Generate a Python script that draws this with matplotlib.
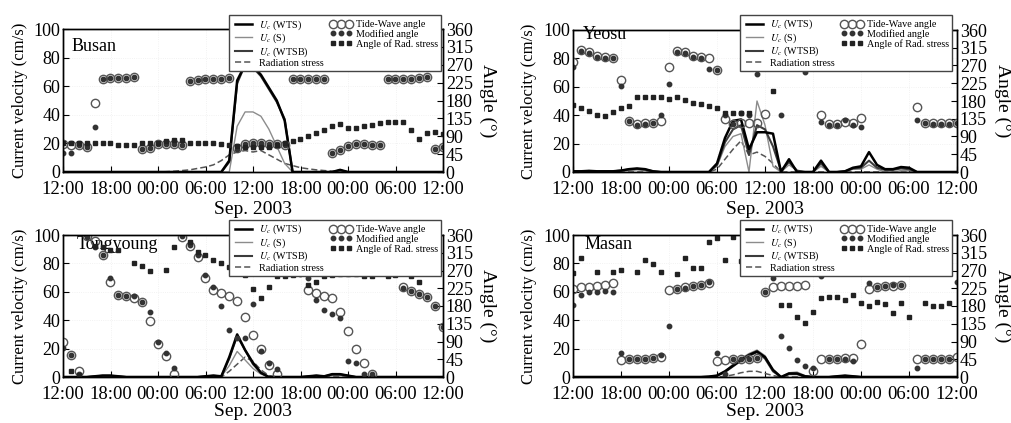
import numpy as np
import matplotlib
matplotlib.use('Agg')
import matplotlib.pyplot as plt
from matplotlib.lines import Line2D

plt.rcParams['font.family'] = ['Liberation Serif', 'DejaVu Serif']
plt.rcParams['mathtext.fontset'] = 'stix'

N = np.nan
hours = np.arange(49)
time_ticks = [0, 6, 12, 18, 24, 30, 36, 42, 48]
time_labels = ['12:00', '18:00', '00:00', '06:00', '12:00', '18:00', '00:00', '06:00', '12:00']
vel_ticks = [0, 20, 40, 60, 80, 100]
ang_ticks = [0, 45, 90, 135, 180, 225, 270, 315, 360]

# ---------------- Busan ----------------
busan_wts = [0,0,0,0,0,0,0,0,0,0, 0,0,0,0,0,0,0,0,0,0, 0,8,64,75,74,68,59,50,36,0,
             0,0,0,0,0,1.5,0,0,0,0, 0,0,0,0,0,0,0,0,0]
busan_s = [0,0,0,0,0,0,0,0,0,0, 0,0,0,0,0,0,0,0,0,0, 0,0,32,42,42,39,30,18,6,0,
           0,0,0,0,0,0.8,0,0,0,0, 0,0,0,0,0,0,0,0,0]
busan_wtsb = [0,0,0,0,0,0,0,0,0,0, 0,0,0,0,0,0,0,0,0,0, 0,7,62,75,73,67,58,49,37,0,
              0,0,0,0,0,1.2,0,0,0,0, 0,0,0,0,0,0,0,0,0]
busan_radv = [0,0,0,0,0,0,0,0,0,0, 0,0,0,0.2,0.5,1,1.5,2.5,3.5,5, 8,12,14,15,14,15,12,9,6,4.5,
              3,2.2,1.5,1,0.6,0.3,0,0,0,0, 0,0,0,0,0,0,0,0,0]
busan_tw = [71,69,67,64,173,235,236,236,237,238, 59,60,71,71,71,67,230,232,234,234,
            235,236,60,70,72,72,71,70,69,234, 234,235,235,235,48,55,65,70,70,69,
            68,234,234,235,235,236,238,58,63]
busan_mod = [48,47,67,64,113,235,236,236,237,238, 59,60,71,71,71,67,230,232,234,234,
             235,236,58,70,72,72,71,70,69,234, 234,235,235,235,47,55,65,70,70,69,
             68,234,234,235,235,236,238,58,63]
busan_rad = [72,72,72,73,74,74,72,68,67,67, 72,74,74,77,81,80,74,74,73,72,
             70,68,66,64,62,62,64,68,72,79, 82,91,98,106,115,121,111,112,116,119,
             123,125,125,125,106,82,98,100,95]

# ---------------- Yeosu ----------------
yeosu_wts = [0.5,0.5,0.8,0.5,0.5,0.5,1,2,2.5,2, 0.5,0,0,0,0,0,0,0,6,24,
             36,37,16,28,28,27,0,9,0,0, 0,8,0,0,0.5,3,4,14,5,2,
             2,3.5,3,0,0,0,0,0,0]
yeosu_s = [0.3,0.3,0.5,0.3,0.3,0.3,0.5,1,1.5,1, 0.3,0,0,0,0,0,0,0,4,18,
           25,27,0,50,33,4,0,5,1,0, 0,4,0,0,0,2,2,5,2,0,
           0,1,1,0,0,0,0,0,0]
yeosu_wtsb = [0.5,0.5,0.7,0.5,0.5,0.5,1,1.8,2.2,1.8, 0.5,0,0,0,0,0,0,0,5,21,
              30,33,12,33,30,18,1,7,1,0, 0,6,0,0,0.5,2.5,3,8,3,1.5,
              1.5,2.5,2,0,0,0,0,0,0]
yeosu_radv = [0,0,0,0,0,0,0,0,0,0, 0,0,0,0,0,0,0,0,2,9,
              16,22,12,14,11,6,0,0,0,0, 0,0,0,0,0,0,0,0,0,0,
              0,0,0,0,0,0,0,0,0]
yeosu_tw = [279,310,304,293,291,290,232,130,122,123, 125,130,266,308,304,293,291,289,259,134,
            121,125,125,125,148,N,N,N,N,N, 283,144,122,122,127,125,138,N,N,N,
            N,N,283,164,123,123,123,123,125]
yeosu_mod = [266,308,302,292,290,288,217,130,120,121, 123,144,224,305,302,292,290,262,259,144,
             121,150,144,249,266,N,144,274,N,253, N,128,119,119,132,119,115,N,N,N,
             N,N,N,133,123,121,121,121,125]
yeosu_rad = [170,161,155,144,142,153,161,167,189,190, 189,189,186,189,182,174,172,167,161,149,
             149,149,149,N,N,205,N,N,N,N, N,N,N,N,N,N,N,N,N,N,
             N,N,N,N,N,N,N,N,N]

# ---------------- Tongyoung ----------------
tong_wts = [0,0,0,0,0.5,1,1,0.5,0,0, 0,0,0,0,0,0,0,0,0.5,1,
            0.5,14,30,19,10,3,0,0,0,0, 0,0.5,1,0.5,2,2,1,0,0,0,
            0,0,0,0,0,0,0,0,0]
tong_s = [0,0,0,0,0.3,0.6,0.6,0.3,0,0, 0,0,0,0,0,0,0,0,0.3,0.6,
          0.3,8,18,12,6,2,0,0,0,0, 0,0.3,0.6,0.3,1.2,1.2,0.6,0,0,0,
          0,0,0,0,0,0,0,0,0]
tong_wtsb = [0,0,0,0,0.4,0.9,0.9,0.4,0,0, 0,0,0,0,0,0,0,0,0.4,0.9,
             0.4,13,29,19,9,3,0,0,0,0, 0,0.4,0.9,0.4,1.8,1.8,0.9,0,0,0,
             0,0,0,0,0,0,0,0,0]
tong_radv = [0,0,0,0,0,0,0,0,0,0, 0,0,0,0,0,0,0,0,0,0,
             0,4,9,14,11,5,1,0,0,0, 0,0,0,0,0,0,0,0,0,0,
             0,0,0,0,0,0,0,0,0]
tong_tw = [88,56,16,358,345,309,242,208,206,201, 191,141,84,52,8,356,332,305,250,221,
           212,206,193,151,107,71,30,8,N,N, 276,221,212,206,201,166,116,71,35,8,
           N,N,N,229,217,211,204,179,128]
tong_mod = [73,56,8,356,330,309,250,208,206,206, 191,166,90,61,23,358,335,309,259,229,
            179,120,100,99,185,67,35,21,N,N, 260,250,196,170,160,149,41,35,8,8,
            N,N,N,225,217,211,204,179,128]
tong_rad = [N,16,5,N,333,330,322,322,N,288, 282,269,N,272,330,N,343,318,309,297,
            288,280,271,259,223,201,229,255,256,259, N,234,242,255,259,260,260,260,255,255,
            263,255,259,N,255,242,267,N,N]

# ---------------- Masan ----------------
masan_wts = [0,0,0,0,0,0,0,0,0,0, 0,0,0,0,0,0,0,0.3,1,4,
             8,12,15.5,18,14,5,0,2.5,2.5,0.5, 0,0,0,0.5,1,0.5,0,0,0,0,
             0,0,0,0,0,0,0,0,0]
masan_s = [0,0,0,0,0,0,0,0,0,0, 0,0,0,0,0,0,0,0.3,1,4,
           9,13,16.5,19,15,5,0,3,3.5,1, 0,0,0,0.3,0.8,0.3,0,0,0,0,
           0,0,0,0,0,0,0,0,0]
masan_wtsb = [0,0,0,0,0,0,0,0,0,0, 0,0,0,0,0,0,0,0.2,0.8,3.5,
              7.5,11.5,15,17.5,13,4,0,2,2,0.5, 0,0,0,0.4,0.8,0.4,0,0,0,0,
              0,0,0,0,0,0,0,0,0]
masan_radv = [0,0,0,0,0,0,0,0,0,0, 0,0,0,0,0,0,0,0,0,0.5,
              1.5,3,4,4,2.5,1,0,0,0,0, 0,0,0,0,0,0,0,0,0,0,
              0,0,0,0,0,0,0,0,0]
masan_tw = [223,227,228,230,232,238,42,46,46,46, 48,50,221,223,227,230,234,239,40,44,
            46,46,46,48,215,227,231,231,231,234, 14,46,46,46,48,48,83,223,228,230,
            230,232,N,46,46,46,46,46,50]
masan_mod = [183,208,215,215,218,215,61,46,46,46, 48,56,130,223,225,230,234,241,62,8,
             46,46,46,48,215,250,103,73,44,27, 23,255,46,46,46,40,N,238,228,230,
             232,232,277,24,46,46,46,46,242]
masan_rad = [263,301,N,265,N,265,271,N,265,297, 286,266,N,260,301,276,276,343,352,297,
             356,293,N,N,N,N,183,183,153,137, 166,200,202,202,196,208,187,181,190,185,
             162,187,153,N,187,179,179,187,N]

stations = [
    ('Busan', busan_wts, busan_s, busan_wtsb, busan_radv, busan_tw, busan_mod, busan_rad,
     [63/1011, 1-172/423, 380/1011, 143/423], (0.022, 0.88), (0.995, 1.098), -0.205),
    ('Yeosu', yeosu_wts, yeosu_s, yeosu_wtsb, yeosu_radv, yeosu_tw, yeosu_mod, yeosu_rad,
     [573/1011, 1-172/423, 384/1011, 142/423], (0.026, 0.965), (0.987, 1.106), -0.205),
    ('Tongyoung', tong_wts, tong_s, tong_wtsb, tong_radv, tong_tw, tong_mod, tong_rad,
     [63/1011, 1-377/423, 380/1011, 142/423], (0.035, 0.93), (0.995, 1.106), -0.182),
    ('Masan', masan_wts, masan_s, masan_wtsb, masan_radv, masan_tw, masan_mod, masan_rad,
     [573/1011, 1-377/423, 384/1011, 142/423], (0.03, 0.93), (0.987, 1.106), -0.182),
]

sty_wts = dict(color='black', lw=1.8)
sty_s = dict(color='#8c8c8c', lw=1.0)
sty_wtsb = dict(color='#3c3c3c', lw=1.5)
sty_radv = dict(color='#555555', lw=1.1, ls=(0, (4, 2)))
sty_tw = dict(ls='none', marker='o', ms=6, mfc='none', mec='#555555', mew=1.0)
sty_mod = dict(ls='none', marker='o', ms=3.2, color='#333333')
sty_ra = dict(ls='none', marker='s', ms=2.5, color='#222222')

fig = plt.figure(figsize=(10.11, 4.23), dpi=100)

for (name, wts, s, wtsb, radv, tw, mod, ra, pos, txtpos, legpos, xlab_y) in stations:
    ax = fig.add_axes(pos)
    ax2 = ax.twinx()
    ax.plot(hours, radv, **sty_radv)
    ax.plot(hours, s, **sty_s)
    ax.plot(hours, wtsb, **sty_wtsb)
    ax.plot(hours, wts, **sty_wts)
    ax2.plot(hours, tw, **sty_tw)
    ax2.plot(hours, mod, **sty_mod)
    ax2.plot(hours, ra, **sty_ra)

    ax.set_xlim(0, 48)
    ax.set_ylim(0, 100)
    ax2.set_ylim(0, 360)
    ax.set_xticks(time_ticks)
    ax.set_xticklabels(time_labels)
    ax.set_yticks(vel_ticks)
    ax2.set_yticks(ang_ticks)
    ax.tick_params(axis='x', direction='in', labelsize=13.5, length=4, pad=6.5)
    ax.tick_params(axis='y', direction='in', labelsize=13, length=4, pad=2)
    ax2.tick_params(axis='y', direction='in', labelsize=13, length=4, pad=2)
    ax.grid(True, color='#eeeeee', ls=':', lw=0.6)
    for sp in list(ax.spines.values()) + list(ax2.spines.values()):
        sp.set_linewidth(1.0)

    ax.set_ylabel('Current velocity (cm/s)', fontsize=12)
    ax.yaxis.set_label_coords(-0.093, 0.5)
    ax2.set_ylabel('Angle (°)', fontsize=14, rotation=270, va='center')
    ax2.yaxis.set_label_coords(1.118, 0.5)
    ax.set_xlabel('Sep. 2003', fontsize=14)
    ax.xaxis.set_label_coords(0.5, xlab_y)

    ax.text(txtpos[0], txtpos[1], name, transform=ax.transAxes, fontsize=13,
            ha='left', va='center')

    handles = [Line2D([], [], **sty_wts), Line2D([], [], **sty_s),
               Line2D([], [], **sty_wtsb), Line2D([], [], **sty_radv),
               Line2D([], [], **sty_tw), Line2D([], [], **sty_mod),
               Line2D([], [], **sty_ra)]
    labels = [r'$U_c$ (WTS)', r'$U_c$ (S)', r'$U_c$ (WTSB)', 'Radiation stress',
              'Tide-Wave angle', 'Modified angle', 'Angle of Rad. stress']
    leg = ax2.legend(handles, labels, ncol=2, loc='upper right', bbox_to_anchor=legpos,
                     borderaxespad=0, fontsize=7.3, numpoints=3, handlelength=2.2,
                     handletextpad=0.4, columnspacing=0.6, labelspacing=0.0,
                     borderpad=0.3, fancybox=False, framealpha=1, edgecolor='#444444')
    leg.get_frame().set_linewidth(1.0)

fig.savefig('out.png', dpi=100)
